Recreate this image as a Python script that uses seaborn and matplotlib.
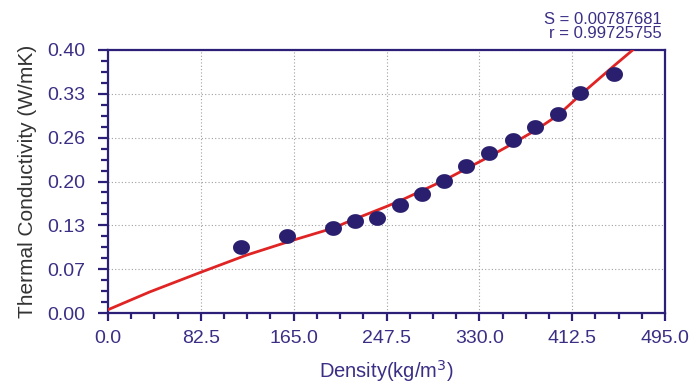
import numpy as np
import pandas as pd
import matplotlib
matplotlib.use("Agg")
import matplotlib.pyplot as plt
from matplotlib.ticker import FixedLocator, FixedFormatter, AutoMinorLocator
from matplotlib.path import Path
import seaborn as sns

# ---- data ----
density = [118, 159, 200, 219.6, 239, 259.6, 279, 298.7, 318.5, 339, 359.5, 379.6, 399.5, 419.6, 449.8]
conductivity = [0.1004, 0.117, 0.129, 0.140, 0.1445, 0.164, 0.181, 0.2005, 0.2236, 0.243, 0.263, 0.283, 0.3027, 0.3346, 0.3635]

fit_x = [0, 37, 82.5, 123, 165, 200, 215, 247.5, 260, 299, 319, 339, 360, 380, 400, 420, 449, 467]
fit_y = [0.005, 0.032, 0.062, 0.088, 0.111, 0.129, 0.140, 0.162, 0.171, 0.202, 0.220, 0.238, 0.258, 0.278, 0.301, 0.332, 0.375, 0.401]

x_ticks = [0.0, 82.5, 165.0, 247.5, 330.0, 412.5, 495.0]
x_tick_labels = ["0.0", "82.5", "165.0", "247.5", "330.0", "412.5", "495.0"]
y_ticks = [0.0, 0.4 / 6, 0.8 / 6, 0.2, 1.6 / 6, 2.0 / 6, 0.4]
y_tick_labels = ["0.00", "0.07", "0.13", "0.20", "0.26", "0.33", "0.40"]

stats_lines = ["S = 0.00787681", "r = 0.99725755"]

# ---- style ----
sns.set_style("white")
plt.rcParams["font.family"] = ["Liberation Sans", "DejaVu Sans"]

navy = "#2b1f78"
text_c = "#3a2f85"
point_c = "#2a1f6e"
red = "#e02424"

# slightly wide elliptical marker
t = np.linspace(0, 2 * np.pi, 40)
ellipse = Path(np.column_stack([1.15 * np.cos(t), np.sin(t)]))

fig = plt.figure(figsize=(6.99, 3.85), dpi=100)
ax = fig.add_axes([108 / 699, 1 - 313 / 385, (665 - 108) / 699, (313 - 50) / 385])

pts = pd.DataFrame({"density": density, "k": conductivity})
fit = pd.DataFrame({"density": fit_x, "k": fit_y})

sns.lineplot(data=fit, x="density", y="k", ax=ax, color=red, linewidth=2.0,
             sort=False, zorder=3)
sns.scatterplot(data=pts, x="density", y="k", ax=ax, color=point_c, s=150,
                marker=ellipse, edgecolor=point_c, linewidth=0, zorder=4,
                clip_on=False)

ax.set_xlim(0, 495)
ax.set_ylim(0, 0.40)

ax.xaxis.set_major_locator(FixedLocator(x_ticks))
ax.xaxis.set_major_formatter(FixedFormatter(x_tick_labels))
ax.yaxis.set_major_locator(FixedLocator(y_ticks))
ax.yaxis.set_major_formatter(FixedFormatter(y_tick_labels))
ax.xaxis.set_minor_locator(AutoMinorLocator(4))
ax.yaxis.set_minor_locator(AutoMinorLocator(4))

ax.tick_params(axis="both", which="major", direction="out", length=6, width=1.6,
               color=navy, labelcolor=text_c, labelsize=14)
ax.tick_params(axis="both", which="minor", direction="out", length=4, width=1.6,
               color=navy)
ax.tick_params(axis="y", which="major", length=7.5, pad=9)
ax.tick_params(axis="y", which="minor", length=5)
ax.tick_params(axis="x", which="major", pad=6)
ax.tick_params(bottom=True, left=True, which="both")

for s in ax.spines.values():
    s.set_visible(True)
    s.set_color(navy)
    s.set_linewidth(1.6)

ax.grid(True, which="major", linestyle=(0, (1, 2)), color="#a0a0a0", linewidth=0.8)
ax.set_axisbelow(True)

ax.set_xlabel("Density(kg/m$^3$)", fontsize=14.5, color=text_c, labelpad=8)
ax.set_ylabel("Thermal Conductivity (W/mK)", fontsize=15, color="#333333", labelpad=7)

fig.text(662 / 699, 1 - 19.5 / 385, stats_lines[0], ha="right", va="center",
         fontsize=12, color=text_c)
fig.text(662 / 699, 1 - 34 / 385, stats_lines[1], ha="right", va="center",
         fontsize=12, color=text_c)

fig.savefig("out.png", dpi=100)
